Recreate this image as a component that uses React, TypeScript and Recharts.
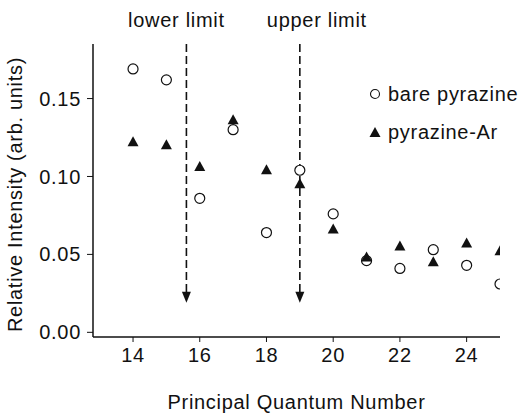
import {
  ScatterChart,
  Scatter,
  XAxis,
  YAxis,
  ReferenceLine,
  Label,
} from 'recharts';

const quantumNumbers = [14, 15, 16, 17, 18, 19, 20, 21, 22, 23, 24, 25];
const bareValues = [0.169, 0.162, 0.086, 0.13, 0.064, 0.104, 0.076, 0.046, 0.041, 0.053, 0.043, 0.031];
const argonValues = [0.122, 0.12, 0.106, 0.136, 0.104, 0.095, 0.066, 0.048, 0.055, 0.045, 0.057, 0.052];
const xTicks = [14, 16, 18, 20, 22, 24];
const yTicks = [0, 0.05, 0.1, 0.15];
const limitNames = ['lower limit', 'upper limit'];
const limitValues = [15.6, 19.0];

const bareData = quantumNumbers.map((n, i) => ({ n, v: bareValues[i] }));
const argonData = quantumNumbers.map((n, i) => ({ n, v: argonValues[i] }));

const FONT = '"Liberation Sans", Arial, Helvetica, sans-serif';
const textStyle = { fontFamily: FONT, fontSize: 20, letterSpacing: 0.7, fill: '#111' };
// label text is not centred on its arrow in the original
const labelShift = [-10, 17];

const OpenCircle = (props: any) => (
  <circle cx={props.cx} cy={props.cy} r={5} fill="#fff" stroke="#111" strokeWidth={1.2} />
);

const FilledTriangle = (props: any) => {
  const { cx, cy } = props;
  return (
    <polygon
      points={`${cx},${cy - 6} ${cx - 5.5},${cy + 4} ${cx + 5.5},${cy + 4}`}
      fill="#111"
    />
  );
};

const limitArrow = (label: string, shift: number) => (props: any) => {
  const { x1, y1, x2, y2 } = props;
  const x = x1 ?? x2;
  const top = Math.min(y1, y2);
  const tip = Math.max(y1, y2);
  return (
    <g>
      <line x1={x} y1={top} x2={x} y2={tip - 8} stroke="#111" strokeWidth={1.6} strokeDasharray="8 4" />
      <polygon points={`${x},${tip} ${x - 4.5},${tip - 11} ${x + 4.5},${tip - 11}`} fill="#111" />
      <text x={x + shift} y={27} textAnchor="middle" style={textStyle}>
        {label}
      </text>
    </g>
  );
};

export default function App() {
  return (
    <div style={{ position: 'absolute', left: 0, top: 0, width: 519, height: 415, background: '#fff' }}>
      <ScatterChart width={519} height={415} margin={{ top: 44, right: 19, bottom: 0, left: 5 }}>
        <XAxis
          type="number"
          dataKey="n"
          domain={[12.8, 25]}
          ticks={xTicks}
          allowDataOverflow
          height={78}
          axisLine={{ stroke: '#111', strokeWidth: 1.5 }}
          tickLine={{ stroke: '#111', strokeWidth: 1 }}
          tickSize={5}
          tick={{ ...textStyle, dy: 4 }}
        >
          <Label value="Principal Quantum Number" position="insideBottom" offset={6} style={textStyle} />
        </XAxis>
        <YAxis
          type="number"
          dataKey="v"
          domain={[-0.003, 0.185]}
          ticks={yTicks}
          allowDataOverflow
          width={88}
          tickFormatter={(v: number) => v.toFixed(2)}
          axisLine={{ stroke: '#111', strokeWidth: 1.5 }}
          tickLine={{ stroke: '#111', strokeWidth: 1 }}
          tickSize={6}
          tick={{ ...textStyle, dx: -4 }}
        >
          <Label
            value="Relative Intensity (arb. units)"
            angle={-90}
            position="insideLeft"
            offset={10}
            dy={4}
            style={{ ...textStyle, textAnchor: 'middle' }}
          />
        </YAxis>
        {limitValues.map((n, i) => (
          <ReferenceLine
            key={limitNames[i]}
            segment={[
              { x: n, y: 0.185 },
              { x: n, y: 0.019 },
            ]}
            shape={limitArrow(limitNames[i], labelShift[i])}
          />
        ))}
        <Scatter name="bare pyrazine" data={bareData} shape={OpenCircle} isAnimationActive={false} />
        <Scatter name="pyrazine-Ar" data={argonData} shape={FilledTriangle} isAnimationActive={false} />
      </ScatterChart>
      <div
        style={{
          position: 'absolute',
          left: 368,
          top: 75,
          fontFamily: FONT,
          fontSize: 20,
          letterSpacing: 0.7,
          color: '#111',
          lineHeight: '38px',
          whiteSpace: 'nowrap',
        }}
      >
        <div style={{ display: 'flex', alignItems: 'center' }}>
          <svg width={14} height={14} style={{ marginRight: 6 }}>
            <circle cx={7} cy={7} r={4.5} fill="#fff" stroke="#111" strokeWidth={1.1} />
          </svg>
          bare pyrazine
        </div>
        <div style={{ display: 'flex', alignItems: 'center' }}>
          <svg width={14} height={14} style={{ marginRight: 6 }}>
            <polygon points="7,2 1.5,12 12.5,12" fill="#111" />
          </svg>
          pyrazine-Ar
        </div>
      </div>
    </div>
  );
}
